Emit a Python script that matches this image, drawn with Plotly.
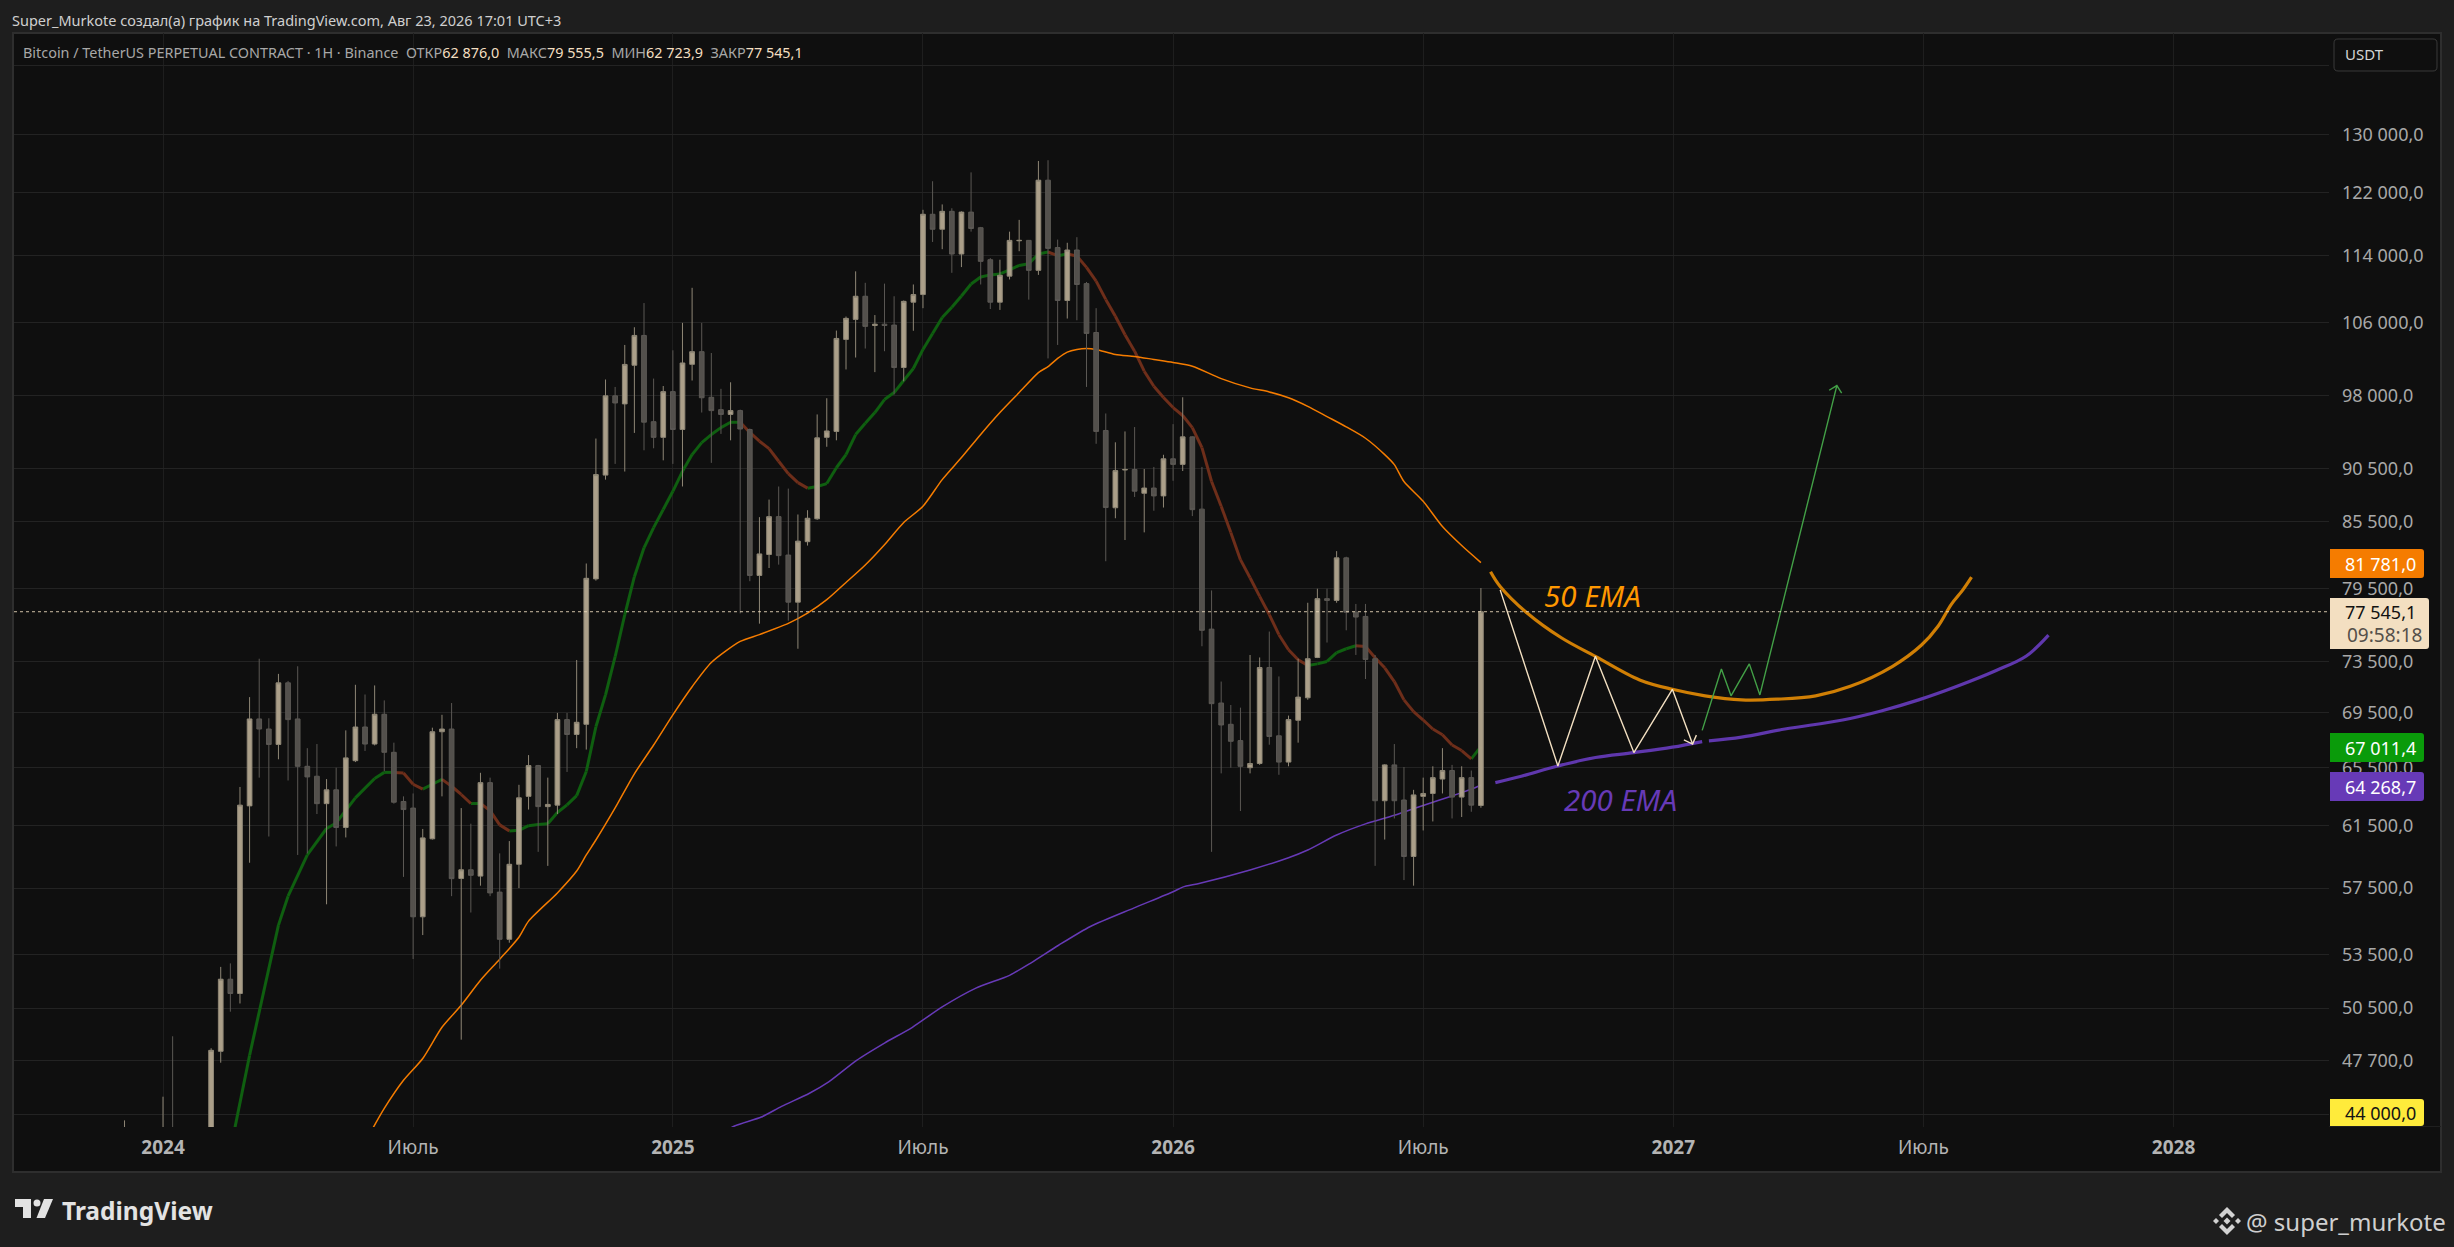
import pandas as pd
import plotly.graph_objects as go

# ---------- data ----------
first_week = "2023-12-04"
open_ = [39970,42000,41300,43000,42280,43930,41700,42000,42600,42580,48190,52100,51300,62850,69050,68300,67170,71800,69050,65600,
         64900,63000,63950,61400,66000,68450,67200,69400,66600,63150,62700,55740,60650,68100,68300,58100,58650,58250,64450,57250,
         54400,59000,63500,65650,62800,62900,69000,67900,68650,80350,89900,97950,97100,101250,104570,95250,93650,98400,94450,101350,
         102750,97800,96500,96000,96400,94450,80650,82500,85950,82450,78350,83650,85750,93650,94250,104120,106400,109100,105700,105850,
         105750,101000,108400,109300,119220,117300,119600,114200,119500,117500,113500,108400,111500,115850,115900,112200,123700,115000,108600,114700,
         110600,104900,94350,86780,90400,90450,88150,88650,87900,91500,90950,93700,86650,76100,70250,68650,67450,65500,65800,73000,
         67800,65900,68950,70650,73800,78650,78500,82200,77500,77150,73700,63200,65700,63250,59500,63500,63700,64700,65300,63450,
         64800,62876.0]
high = [44720,43400,44400,43800,45880,48980,43000,43800,43500,48350,52800,53000,64150,70700,73700,69100,72500,71950,73100,66900,
        67200,64700,65500,68200,71650,70900,71600,70450,67300,63500,63700,61300,68400,69360,70250,62700,61650,65140,64800,59700,
        60500,64300,66400,65700,64800,69500,69500,73600,81700,93530,99700,98900,103500,105500,108300,99800,99000,102900,106000,110100,
        106000,102600,98700,99400,96500,94550,85900,87550,88800,88600,86150,86550,96000,97700,105120,106730,112080,110700,106900,110600,
        109100,108600,110500,119800,123560,120500,120000,119600,124750,117600,113700,113500,117000,118500,115950,126300,126400,116000,115600,116300,
        110800,107700,96100,93150,94250,94700,90500,90700,91900,95000,97800,93750,90700,79350,71900,70100,69900,74000,73800,75900,
        72300,69300,73700,78300,79500,79500,82800,82300,78200,78200,74000,65750,67200,65550,63950,64800,65600,66900,65700,65600,
        65300,79555.5]
low = [39970,40200,40500,41300,40750,41500,38500,41800,41900,42500,47600,50300,50750,59100,64800,60800,66100,64600,59600,59700,
       62300,56500,60150,60740,65900,66700,67100,65250,63000,58200,53250,54650,60600,63500,57000,48800,56000,57650,57000,52700,
       54200,57500,62600,59800,58900,62300,65200,66900,66800,80200,89460,91000,90250,94100,92350,92550,91350,91000,88800,99590,
       96200,91100,94000,93350,77400,80150,76550,81300,81600,76800,74500,83300,85650,92700,93350,100790,102100,103100,100500,102800,
       98100,99500,105100,107700,115700,114800,111900,112600,117000,110500,107600,107500,111100,114550,108700,111650,102000,103500,106500,106300,
       98900,93000,81900,85800,83800,87800,84500,86500,86800,89350,90300,86000,74700,59800,65100,65500,62500,65100,65700,67150,
       65000,65600,67300,70500,73750,75000,78300,76000,74000,72100,58900,60600,62000,58000,57650,61200,61800,63700,62000,62100,
       62450,62723.9]
close = [42000,41300,43000,42280,43930,41700,42000,42600,42580,48240,52100,51300,62900,69050,68300,67170,71800,69000,65600,64850,
         63000,63950,61400,66200,68450,67200,69400,66600,63100,62600,55740,60710,68100,68300,58090,58650,58300,64450,57200,54400,
         59000,63400,65650,62800,62950,69000,67900,68800,80400,89950,97950,97200,101340,104570,95200,93650,98400,94450,101500,102750,
         97750,96400,96000,96400,94500,80650,82550,85950,82400,78350,83700,85800,93600,94300,104230,106520,109100,105600,105850,105700,
         101000,108500,109300,119220,117300,119600,114200,119500,117400,113300,108400,111600,115900,115900,112200,123700,114900,108600,114700,110500,
         104800,94250,86800,90340,90450,88350,88650,87900,91500,90950,93700,86600,76000,70200,68600,67400,65600,65800,73000,67750,
         65900,69000,70700,73700,78650,78500,82200,77500,77100,73640,63200,65700,63200,59500,63600,63700,64800,65300,63450,64800,
         62900,77545.1]

ema20_weeks = [7,9,12,13,15,17,18,20,22,23,24,25,26,27,28,29,30,31,32,33,34,35,36,37,38,39,40,41,42,43,44,45,46,47,48,49,50,51,52,53,54,55,56,57,58,59,60,
               61,62,63,64,65,66,67,68,69,70,71,72,73,74,75,76,77,78,79,80,81,82,83,84,85,86,87,88,89,90,91,92,93,94,95,96,97,98,99,100,
               101,102,103,104,105,106,107,108,109,110,111,112,113,114,115,116,117,118,119,120,121,122,123,124,125,126,127,128,129,130,131,132,133,134,135,136,137]
ema20_values = [43290,47980,55240,57000,59600,61330,61700,63400,64740,65170,65170,65120,64340,64000,64340,64680,64200,63630,63010,63010,62530,61570,61170,61210,61520,61600,61640,62400,62920,63550,65230,68470,70870,73860,77290,80540,83100,84930,86610,88340,90270,91920,93120,93930,94640,95190,95190,
                94150,93260,92520,91260,90050,89170,88640,88800,89080,90620,91920,93930,95080,96200,97560,98300,99590,100900,103000,104800,106620,107800,109130,110560,111400,111650,111770,112260,112800,113000,114200,114450,114000,114200,113950,112560,110900,108730,106770,104650,
                102800,100600,98970,97770,96720,95890,94640,92620,89280,86920,84490,82040,80450,78840,77310,75640,74420,73620,73160,73290,73480,74180,74500,74740,74690,73780,72980,71900,70490,69600,68970,68300,67880,67130,66730,66130,67011.4]

ema50_weeks = [21,23,25,27,29,31,33,35,37,38,41,43,44,45,47,49,51,53,55,57,60,62,65,67,69,71,73,75,77,79,81,83,85,87,89,91,92,93,94,95,96,97,99,101,103,105,107,110,113,115,117,119,121,123,125,127,128,129,131,133,135,137]
ema50_values = [43670,45300,46700,47820,49460,50650,52040,53240,54520,55480,57200,58570,59600,60570,62710,65070,67130,69360,71500,73400,75090,75650,76570,77420,78560,80040,81570,83380,85410,86920,89460,91620,93950,96200,98300,100450,101100,102000,102700,103000,103110,103000,102440,102220,101890,101560,101150,99800,98800,98370,97750,96850,95780,94720,93560,91920,90930,89280,87390,85030,83300,81781.0]

ema200_weeks = [58,59.2,62.2,64.3,67.2,69.2,72.1,75,77.9,81,84.5,88,90.2,93.1,96.4,100.9,105,106,107.8,113,117,119,122,125,128,131,134,136,137]
ema200_values = [43950,44400,44880,45400,46050,46620,47720,48620,49460,50560,51600,52320,53020,54050,55160,56270,57270,57560,57800,58640,59420,59920,60900,61640,62210,62880,63530,64000,64268.7]

draw50_weeks = [138.0,139.0,141.8,145.4,148.9,153.5,156.9,160.3,164.1,167.8,171.8,175.4,179.8,182.8,184.5,185.9,187.1,188.0]
draw50_values = [80980,79700,77440,75370,73890,72030,71300,70800,70490,70540,70800,71530,73100,74800,76320,78170,79400,80500]
draw200a_weeks = [138.5,141.2,145,148.9,152.9,156.9,160]
draw200a_values = [64450,64900,65620,66230,66580,66970,67380]
draw200b_weeks = [160.7,164.1,168.6,174.6,178.6,182.5,186.5,190.5,193.7,196]
draw200b_values = [67430,67700,68300,68970,69650,70490,71540,72750,73920,75600]
zig_weeks = [139.0,145,148.9,152.9,156.9,159]
zig_values = [79400,65620,73890,66580,71300,67200]
zig_head_weeks = [158.1,159,159.4]
zig_head_values = [67500,67200,67850]
up_weeks = [160,162,163,164.9,166,174]
up_values = [68200,72880,70800,73290,70870,99050]
up_head_weeks = [173.2,174,174.5]
up_head_values = [98550,99050,98250]

y_tick_values = [140000,130000,122000,114000,106000,98000,90500,85500,79500,73500,69500,65500,61500,57500,53500,50500,47700,45000]
y_tick_labels = ["","130 000,0","122 000,0","114 000,0","106 000,0","98 000,0","90 500,0","85 500,0","79 500,0","73 500,0",
                 "69 500,0","65 500,0","61 500,0","57 500,0","53 500,0","50 500,0","47 700,0",""]
x_tick_dates = ["2024-01-01","2024-07-01","2025-01-06","2025-07-07","2026-01-05","2026-07-06","2027-01-04","2027-07-05","2028-01-03"]
x_tick_labels = ["<b>2024</b>","Июль","<b>2025</b>","Июль","<b>2026</b>","Июль","<b>2027</b>","Июль","<b>2028</b>"]

# ---------- layout constants ----------
W, H = 2454, 1247
L, R, T, B = 14, 2329, 33, 1127
BG_PAGE, BG_PANE = "#1e1e1e", "#0f0f0f"
FONT = "Noto Sans"
BASE = pd.Timestamp("2024-01-01")
Y_RANGE = [4.64738, 5.16155]


def wk(k):
    return BASE + pd.Timedelta(days=float(k) * 7)


def wks(seq):
    return [wk(k) for k in seq]


def X(px):
    return (px - L) / (R - L)


def Y(py):
    return 1 - (py - T) / (B - T)


def path(points, close_path=True):
    s = "M" + " L".join(f"{X(a):.5f},{Y(b):.5f}" for a, b in points)
    return s + (" Z" if close_path else "")


dates = pd.date_range(first_week, periods=len(close), freq="7D")
fig = go.Figure()

# 20 EMA coloured by direction
seg = {"up": ([], []), "dn": ([], [])}
for i in range(len(ema20_values) - 1):
    key = "up" if ema20_values[i + 1] >= ema20_values[i] else "dn"
    seg[key][0].extend([wk(ema20_weeks[i]), wk(ema20_weeks[i + 1]), None])
    seg[key][1].extend([ema20_values[i], ema20_values[i + 1], None])
fig.add_trace(go.Scatter(x=seg["up"][0], y=seg["up"][1], mode="lines", line=dict(color="#0f5f10", width=3)))
fig.add_trace(go.Scatter(x=seg["dn"][0], y=seg["dn"][1], mode="lines", line=dict(color="#6e2e1a", width=3)))
fig.add_trace(go.Scatter(x=wks(ema50_weeks), y=ema50_values, mode="lines",
                         line=dict(color="#f57c00", width=1.5, shape="spline", smoothing=0.7)))
fig.add_trace(go.Scatter(x=wks(ema200_weeks), y=ema200_values, mode="lines",
                         line=dict(color="#673ab7", width=1.5, shape="spline", smoothing=0.7)))

# drawings
fig.add_trace(go.Scatter(x=wks(draw50_weeks), y=draw50_values, mode="lines", line=dict(color="#d07f05", width=3.2, shape="spline")))
for xs, ys in ((draw200a_weeks, draw200a_values), (draw200b_weeks, draw200b_values)):
    fig.add_trace(go.Scatter(x=wks(xs), y=ys, mode="lines", line=dict(color="#5f37ad", width=3.2, shape="spline")))
for xs, ys in ((zig_weeks, zig_values), (zig_head_weeks, zig_head_values)):
    fig.add_trace(go.Scatter(x=wks(xs), y=ys, mode="lines", line=dict(color="#f3e0c2", width=1.4)))
for xs, ys in ((up_weeks, up_values), (up_head_weeks, up_head_values)):
    fig.add_trace(go.Scatter(x=wks(xs), y=ys, mode="lines", line=dict(color="#43a047", width=1.4)))

# candles sit on an overlaid axis so that they draw above the EMA lines
fig.add_trace(go.Candlestick(
    x=dates, open=open_, high=high, low=low, close=close, yaxis="y2",
    increasing=dict(line=dict(color="#8f8776", width=1), fillcolor="rgba(178,165,143,0.96)"),
    decreasing=dict(line=dict(color="#5b5854", width=1), fillcolor="rgba(86,83,79,0.96)"),
    hoverinfo="skip",
))

shapes = [
    dict(type="rect", xref="paper", yref="paper", x0=X(13), x1=X(2441), y0=Y(33), y1=Y(1172),
         fillcolor=BG_PANE, line=dict(color="#2e2e2e", width=2), layer="below"),
    dict(type="line", xref="paper", yref="paper", x0=X(R), x1=X(2441), y0=Y(1126.5), y1=Y(1126.5),
         line=dict(color="#1f1f1f", width=1), layer="below"),
    dict(type="line", xref="paper", yref="y", x0=0, x1=1, y0=close[-1], y1=close[-1],
         line=dict(color="rgba(240,222,192,0.85)", width=1, dash="dot"), layer="above"),
    dict(type="path", xref="paper", yref="paper",
         path=(f"M{X(2338):.5f},{Y(39):.5f} L{X(2433):.5f},{Y(39):.5f} Q{X(2437):.5f},{Y(39):.5f} {X(2437):.5f},{Y(43):.5f} "
               f"L{X(2437):.5f},{Y(67):.5f} Q{X(2437):.5f},{Y(71):.5f} {X(2433):.5f},{Y(71):.5f} L{X(2338):.5f},{Y(71):.5f} "
               f"Q{X(2334):.5f},{Y(71):.5f} {X(2334):.5f},{Y(67):.5f} L{X(2334):.5f},{Y(43):.5f} Q{X(2334):.5f},{Y(39):.5f} {X(2338):.5f},{Y(39):.5f} Z"),
         line=dict(color="#3a3a3a", width=1), fillcolor="rgba(0,0,0,0)", layer="above"),
]


def price_tag(x1, y0, y1, color):
    r = 3
    return dict(type="path", xref="paper", yref="paper", layer="above", fillcolor=color, line=dict(width=0),
                path=(f"M{X(R+1):.5f},{Y(y0):.5f} L{X(x1-r):.5f},{Y(y0):.5f} Q{X(x1):.5f},{Y(y0):.5f} {X(x1):.5f},{Y(y0+r):.5f} "
                      f"L{X(x1):.5f},{Y(y1-r):.5f} Q{X(x1):.5f},{Y(y1):.5f} {X(x1-r):.5f},{Y(y1):.5f} L{X(R+1):.5f},{Y(y1):.5f} Z"))


shapes += [
    price_tag(2424, 549, 578, "#f57c00"),
    price_tag(2429, 598, 649, "#f3dfc1"),
    price_tag(2424, 733, 762, "#0a9b0a"),
    price_tag(2424, 772, 801, "#673ab7"),
    price_tag(2424, 1099, 1126, "#ffeb3b"),
]

# TradingView logo
logo = "#e3e3e3"
for pts in ([(15, 1199), (31, 1199), (31, 1218), (23, 1218), (23, 1207), (15, 1207)],
            [(44, 1199), (53, 1199), (45, 1218), (36.5, 1218)]):
    shapes.append(dict(type="path", xref="paper", yref="paper", path=path(pts), fillcolor=logo, line=dict(width=0), layer="above"))
shapes.append(dict(type="circle", xref="paper", yref="paper", x0=X(33.5), x1=X(40.5), y0=Y(1199.5), y1=Y(1206.5),
                   fillcolor=logo, line=dict(width=0), layer="above"))

# Binance mark
bn = "#d2d2d2"
cx, cy = 2227, 1221
for pts in ([(cx, cy - 14), (cx + 8, cy - 6), (cx + 5, cy - 3), (cx, cy - 8), (cx - 5, cy - 3), (cx - 8, cy - 6)],
            [(cx, cy + 14), (cx + 8, cy + 6), (cx + 5, cy + 3), (cx, cy + 8), (cx - 5, cy + 3), (cx - 8, cy + 6)],
            [(cx, cy - 3.5), (cx + 3.5, cy), (cx, cy + 3.5), (cx - 3.5, cy)],
            [(cx - 11, cy - 3), (cx - 8, cy), (cx - 11, cy + 3), (cx - 14, cy)],
            [(cx + 11, cy - 3), (cx + 14, cy), (cx + 11, cy + 3), (cx + 8, cy)]):
    shapes.append(dict(type="path", xref="paper", yref="paper", path=path(pts), fillcolor=bn, line=dict(width=0), layer="above"))


def note(px, py, text, size, color, anchor="left", **kw):
    return dict(xref="paper", yref="paper", x=X(px), y=Y(py), text=text, showarrow=False, xanchor=anchor, yanchor="middle",
                align=anchor, font=dict(family=FONT, size=size, color=color), borderpad=0, borderwidth=0, **kw)


lab, val = "#a8a8a8", "#f3dfc1"
NB = "\u00a0"
legend = (f"Bitcoin / TetherUS PERPETUAL CONTRACT · 1H · Binance{NB}{NB}"
          f"ОТКР<span style='color:{val}'>62 876,0</span>{NB}{NB}"
          f"МАКС<span style='color:{val}'>79 555,5</span>{NB}{NB}"
          f"МИН<span style='color:{val}'>62 723,9</span>{NB}{NB}"
          f"ЗАКР<span style='color:{val}'>77 545,1</span>")

annotations = [
    note(12, 19.5, "Super_Murkote создал(а) график на TradingView.com, Авг 23, 2026 17:01 UTC+3", 14.5, "#cfcfcf"),
    note(23, 53, legend, 14.4, lab),
    note(2345, 54, "USDT", 15, "#d4d4d4"),
    note(2416, 563.5, "81 781,0", 18, "#ffffff", "right"),
    note(2416, 612, "77 545,1", 18, "#111111", "right"),
    note(2422, 635, "09:58:18", 19, "#55504a", "right"),
    note(2416, 747.5, "67 011,4", 18, "#ffffff", "right"),
    note(2416, 786.5, "64 268,7", 18, "#ffffff", "right"),
    note(2416, 1113, "44 000,0", 18, "#141414", "right"),
    note(1544, 595, "<i>50 EMA</i>", 29.5, "#ff9800"),
    note(1564, 799, "<i>200 EMA</i>", 29.5, "#673ab7"),
    note(62, 1210, "<b>TradingView</b>", 24.5, "#e3e3e3"),
    note(2246, 1221, "@ super_murkote", 24, "#cfcfcf"),
]

fig.update_layout(
    width=W, height=H, autosize=False,
    margin=dict(l=L, r=W - R, t=T, b=H - B, pad=0),
    paper_bgcolor=BG_PAGE, plot_bgcolor=BG_PANE,
    showlegend=False, hovermode=False, dragmode=False,
    font=dict(family=FONT),
    shapes=shapes, annotations=annotations,
    xaxis=dict(type="date", range=[wk(-15.49), wk(225.16)], tickmode="array", tickvals=x_tick_dates, ticktext=x_tick_labels,
               showgrid=True, gridcolor="#1e1e1e", gridwidth=1, zeroline=False, showline=False, ticks="",
               tickfont=dict(family=FONT, size=19, color="#b4b4b4"), ticklabelstandoff=7,
               rangeslider=dict(visible=False), fixedrange=True),
    yaxis=dict(type="log", range=Y_RANGE, side="right", tickmode="array", tickvals=y_tick_values, ticktext=y_tick_labels,
               showgrid=True, gridcolor="#232323", gridwidth=1, zeroline=False, showline=False, ticks="",
               tickfont=dict(family=FONT, size=18, color="#a8a8a8"), ticklabelstandoff=12, fixedrange=True),
    yaxis2=dict(type="log", range=Y_RANGE, overlaying="y", side="right", visible=False, fixedrange=True),
)

fig.write_html("out.html", config=dict(displayModeBar=False),
               post_script="document.body.style.margin='0';document.body.style.overflow='hidden';")
